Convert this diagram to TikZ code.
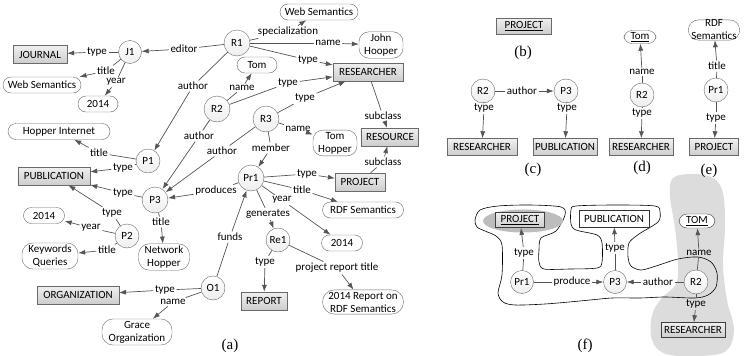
\documentclass[tikz,border=0pt]{standalone}
\usepackage{fontspec}
\setmainfont{Carlito}
\newfontfamily\capfont{Liberation Serif}
\usetikzlibrary{arrows.meta, shapes.geometric}

\definecolor{linegray}{HTML}{555555}
\definecolor{boxline}{HTML}{6A6A6A}
\definecolor{boxtop}{HTML}{F0F0F0}
\definecolor{boxbot}{HTML}{CDCDCD}
\definecolor{circbot}{HTML}{EEEEEE}
\definecolor{blobgray}{HTML}{DCDCDC}
\definecolor{hlgray}{HTML}{BDBDBD}

\begin{document}
\begin{tikzpicture}[x = 1pt, y = -1pt, font = \fontsize{11}{13}\selectfont,
    box/.style = {shape = rectangle, draw = boxline, top color = boxtop, bottom color = boxbot, minimum height = 18pt, inner xsep = 6pt, inner ysep = 2pt},
    fbox/.style = {shape = rectangle, draw = black!80, fill = white, minimum height = 17pt, inner xsep = 5pt, inner ysep = 1pt},
    pill/.style = {shape = rectangle, rounded corners = 8pt, draw = boxline, fill = white, minimum height = 16pt, inner xsep = 3pt, inner ysep = 2pt, align = center},
    res/.style = {shape = circle, draw = boxline, top color = white, bottom color = circbot, minimum size = 25pt, inner sep = 1pt},
    lbl/.style = {inner sep = 1.5pt},
    subcap/.style = {font = \capfont\fontsize{15}{17}\selectfont},
    ln/.style = {draw = linegray, line width = 0.7pt},
    arr/.style = {ln, -{Latex[length = 7pt, width = 5pt]}}]
    \useasboundingbox (0, 0) rectangle (745, 356);

    % (f) background
    \fill [blobgray] plot [smooth cycle, tension = 0.6] coordinates {(673,178) (693,174) (713,178) (723,193) (725,227) (723,265) (727,300) (734,330) (726,351) (700,356) (666,354) (652,340) (652,315) (662,298) (676,284) (678,262) (675,228) (670,196)};
    \draw [black, line width = 0.6pt] plot [smooth cycle, tension = 0.5] coordinates {(475,220) (480,210) (498,206) (530,205) (561,207) (565,215) (556,231) (541,238) (539,250) (539,262) (544,269) (570,269) (597,268) (602,262) (602,243) (597,235) (576,230) (571,224) (571,210) (576,206) (615,205) (655,206) (660,212) (658,222) (639,234) (629,243) (628,257) (631,266) (641,270) (656,266) (678,259) (698,257) (711,262) (717,273) (716,287) (708,295) (695,298) (665,297) (640,298) (612,298) (580,301) (545,304) (515,305) (503,302) (498,293) (502,275) (502,245) (496,236) (485,231) (477,227)};
    \node [shape = ellipse, fill = hlgray, minimum width = 80pt, minimum height = 23pt] (projhl) at (523, 221) {};

    % (a)
    \node [box] (journal) at (40, 54.5) {JOURNAL};
    \node [res, minimum size = 23pt] (J1) at (130, 52) {J1};
    \node [res, minimum size = 26pt] (R1) at (237, 43) {R1};
    \node [pill, minimum width = 78pt] (websemA) at (319, 12) {Web Semantics};
    \node [pill, minimum width = 44pt, rounded corners = 10pt] (john) at (381, 45) {John\\Hooper};
    \node [box] (researcher) at (368, 72) {RESEARCHER};
    \node [pill, minimum width = 40pt] (tom) at (257, 65) {Tom};
    \node [res, minimum size = 26pt] (R2) at (217, 109) {R2};
    \node [res, minimum size = 26pt] (R3) at (266, 119) {R3};
    \node [pill, minimum width = 44pt, rounded corners = 10pt] (tomhopper) at (335, 143) {Tom\\Hopper};
    \node [box, inner xsep = 4.5pt] (resource) at (390, 137) {RESOURCE};
    \node [pill, minimum width = 78pt] (websemB) at (42, 85) {Web Semantics};
    \node [pill, minimum width = 40pt] (yearJ) at (98, 104) {2014};
    \node [pill, minimum width = 102pt] (hopper) at (59, 131.5) {Hopper Internet};
    \node [res, minimum size = 24pt] (P1) at (148, 161) {P1};
    \node [box] (publication) at (54, 176) {PUBLICATION};
    \node [res, minimum size = 26pt] (P3) at (155, 200) {P3};
    \node [res, minimum size = 26pt] (Pr1) at (251, 178) {Pr1};
    \node [box, inner xsep = 5.5pt] (project) at (360, 182) {PROJECT};
    \node [pill, minimum width = 81pt] (rdf) at (363, 210) {RDF Semantics};
    \node [pill, minimum width = 41pt] (yearPr) at (342, 243) {2014};
    \node [pill, minimum width = 41pt] (yearP) at (44, 215.5) {2014};
    \node [res, minimum size = 24pt] (P2) at (127, 236) {P2};
    \node [pill, minimum width = 56pt, rounded corners = 11pt] (keywords) at (50, 256) {Keywords\\Queries};
    \node [pill, minimum width = 51pt, rounded corners = 11pt] (network) at (164, 257) {Network\\Hopper};
    \node [res, minimum size = 24pt] (Re1) at (278, 240) {Re1};
    \node [box, inner xsep = 5pt] (report) at (264, 301) {REPORT};
    \node [res, minimum size = 24pt] (O1) at (213, 288) {O1};
    \node [box] (organization) at (78, 295) {ORGANIZATION};
    \node [pill, minimum width = 70pt, rounded corners = 11pt] (grace) at (137, 332) {Grace\\Organization};
    \node [pill, minimum width = 81pt, rounded corners = 12pt] (report2014) at (363, 302) {2014 Report on\\RDF Semantics};

    \node [lbl] (lJtype) at (97, 52) {type};
    \node [lbl] (lJeditor) at (184, 49) {editor};
    \node [lbl] (lJtitle) at (106, 71) {title};
    \node [lbl] (lJyear) at (116, 82) {year};
    \node [lbl] (lRspec) at (288, 32) {specialization};
    \node [lbl] (lRname) at (328, 43) {name};
    \node [lbl] (lRtype) at (308, 60) {type};
    \node [lbl] (lRauthor) at (193, 86) {author};
    \node [lbl] (lR2name) at (242, 88) {name};
    \node [lbl] (lR2type) at (288, 83) {type};
    \node [lbl] (lR2author) at (199, 136) {author};
    \node [lbl] (lR3type) at (305, 98) {type};
    \node [lbl] (lR3name) at (298, 129) {name};
    \node [lbl] (lR3author) at (222, 151) {author};
    \node [lbl] (lR3member) at (271, 148) {member};
    \node [lbl] (lsub1) at (383, 116) {subclass};
    \node [lbl] (lsub2) at (383, 162) {subclass};
    \node [lbl] (lP1title) at (99, 153) {title};
    \node [lbl] (lP1type) at (123, 168) {type};
    \node [lbl] (lP3type) at (123, 193) {type};
    \node [lbl] (lP2type) at (112, 213) {type};
    \node [lbl] (lP2year) at (91, 228) {year};
    \node [lbl] (lP2title) at (107, 250) {title};
    \node [lbl] (lP3title) at (161, 222) {title};
    \node [lbl] (lprod) at (216, 191) {produces};
    \node [lbl] (lPrtype) at (307, 174) {type};
    \node [lbl] (lPrtitle) at (302, 190) {title};
    \node [lbl] (lPryear) at (282, 200) {year};
    \node [lbl] (lgen) at (268, 214) {generates};
    \node [lbl] (lfunds) at (230, 237) {funds};
    \node [lbl] (lRetype) at (265, 262) {type};
    \node [lbl] (lRetitle) at (337, 268) {project report title};
    \node [lbl] (lOtype) at (165, 290) {type};
    \node [lbl] (lOname) at (173, 302) {name};

    \draw [ln] (J1) -- (lJtype); \draw [arr] (lJtype) -- (journal);
    \draw [ln] (R1) -- (lJeditor); \draw [arr] (lJeditor) -- (J1);
    \draw [ln] (J1) -- (lJtitle); \draw [arr] (lJtitle) -- (websemB);
    \draw [ln] (J1) -- (lJyear); \draw [arr] (lJyear) -- (yearJ);
    \draw [ln] (R1) -- (lRspec); \draw [arr] (lRspec) -- (websemA);
    \draw [ln] (R1) -- (lRname); \draw [arr] (lRname) -- (john);
    \draw [ln] (R1) -- (lRtype); \draw [arr] (lRtype) -- (researcher);
    \draw [ln] (R1) -- (lRauthor); \draw [arr] (lRauthor) -- (P1);
    \draw [ln] (R2) -- (lR2name); \draw [arr] (lR2name) -- (tom);
    \draw [ln] (R2) -- (lR2type); \draw [arr] (lR2type) -- (researcher);
    \draw [ln] (R2) -- (lR2author); \draw [arr] (lR2author) -- (P3);
    \draw [ln] (R3) -- (lR3type); \draw [arr] (lR3type) -- (researcher);
    \draw [ln] (R3) -- (lR3name); \draw [arr] (lR3name) -- (tomhopper);
    \draw [ln] (R3) -- (lR3author); \draw [arr] (lR3author) -- (P3);
    \draw [ln] (R3) -- (lR3member); \draw [arr] (lR3member) -- (Pr1);
    \draw [ln] (researcher) -- (lsub1); \draw [arr] (lsub1) -- (resource);
    \draw [ln] (project) -- (lsub2); \draw [arr] (lsub2) -- (resource);
    \draw [ln] (P1) -- (lP1title); \draw [arr] (lP1title) -- (hopper);
    \draw [ln] (P1) -- (lP1type); \draw [arr] (lP1type) -- (publication);
    \draw [ln] (P3) -- (lP3type); \draw [arr] (lP3type) -- (publication);
    \draw [ln] (P2) -- (lP2type); \draw [arr] (lP2type) -- (publication);
    \draw [ln] (P2) -- (lP2year); \draw [arr] (lP2year) -- (yearP);
    \draw [ln] (P2) -- (lP2title); \draw [arr] (lP2title) -- (keywords);
    \draw [ln] (P3) -- (lP3title); \draw [arr] (lP3title) -- (network);
    \draw [ln] (Pr1) -- (lprod); \draw [arr] (lprod) -- (P3);
    \draw [ln] (Pr1) -- (lPrtype); \draw [arr] (lPrtype) -- (project);
    \draw [ln] (Pr1) -- (lPrtitle); \draw [arr] (lPrtitle) -- (rdf);
    \draw [ln] (Pr1) -- (lPryear); \draw [arr] (lPryear) -- (yearPr);
    \draw [ln] (Pr1) -- (lgen); \draw [arr] (lgen) -- (Re1);
    \draw [ln] (O1) -- (lfunds); \draw [arr] (lfunds) -- (Pr1);
    \draw [ln] (Re1) -- (lRetype); \draw [arr] (lRetype) -- (report);
    \draw [ln] (Re1) -- (lRetitle); \draw [arr] (lRetitle) -- (report2014);
    \draw [ln] (O1) -- (lOtype); \draw [arr] (lOtype) -- (organization);
    \draw [ln] (O1) -- (lOname); \draw [arr] (lOname) -- (grace);

    % (b)
    \node [box, minimum height = 16pt, inner xsep = 8pt] (projB) at (524, 26) {\underline{PROJECT}};

    % (c)
    \node [res, minimum size = 24pt] (R2c) at (483, 91) {R2};
    \node [res, minimum size = 24pt] (P3c) at (566, 91) {P3};
    \node [box, minimum height = 17pt, inner xsep = 6pt] (researcherC) at (482, 147) {RESEARCHER};
    \node [box, minimum height = 17pt, inner xsep = 2pt] (publicationC) at (565, 147) {PUBLICATION};
    \node [lbl] (lcauthor) at (522, 91) {author};
    \node [lbl] (lctype1) at (484, 108) {type};
    \node [lbl] (lctype2) at (567, 108) {type};
    \draw [ln] (R2c) -- (lcauthor); \draw [arr] (lcauthor) -- (P3c);
    \draw [ln] (R2c) -- (lctype1); \draw [arr] (lctype1) -- (researcherC);
    \draw [ln] (P3c) -- (lctype2); \draw [arr] (lctype2) -- (publicationC);

    % (d)
    \node [pill, minimum width = 32pt, minimum height = 13pt, inner ysep = 0pt] (tomD) at (640, 37) {\underline{Tom}};
    \node [res, minimum size = 24pt] (R2d) at (642, 95) {R2};
    \node [box, minimum height = 17pt, inner xsep = 3pt] (researcherD) at (641, 147) {RESEARCHER};
    \node [lbl] (ldname) at (642, 72) {name};
    \node [lbl] (ldtype) at (642, 113) {type};
    \draw [ln] (R2d) -- (ldname); \draw [arr] (ldname) -- (tomD);
    \draw [ln] (R2d) -- (ldtype); \draw [arr] (ldtype) -- (researcherD);

    % (e)
    \node [pill, minimum width = 48pt, rounded corners = 10pt, inner ysep = 0pt] (rdfE) at (714, 30) {RDF\\Semantics};
    \node [res, minimum size = 24pt] (Pr1e) at (716, 90) {Pr1};
    \node [box, minimum height = 17pt, inner xsep = 5pt] (projectE) at (714, 147) {PROJECT};
    \node [lbl] (letitle) at (717, 66) {title};
    \node [lbl] (letype) at (716, 118) {type};
    \draw [ln] (Pr1e) -- (letitle); \draw [arr] (letitle) -- (rdfE);
    \draw [ln] (Pr1e) -- (letype); \draw [arr] (letype) -- (projectE);

    % (f)
    \node [box, draw = black!75, line width = 0.8pt, minimum height = 15pt, inner xsep = 5pt] (projectF) at (520, 220) {\underline{PROJECT}};
    \node [fbox] (publicationF) at (614, 218.5) {PUBLICATION};
    \node [pill, draw = black!75, minimum width = 36pt, minimum height = 14pt, inner ysep = 0pt] (tomF) at (697, 221) {\underline{TOM}};
    \node [res, minimum size = 23pt] (Pr1f) at (522, 282) {Pr1};
    \node [res, minimum size = 23pt] (P3f) at (615, 282) {P3};
    \node [res, minimum size = 24pt] (R2f) at (696, 282) {R2};
    \node [box, draw = black!75, minimum height = 15pt, inner xsep = 3pt] (researcherF) at (693, 330) {RESEARCHER};
    \node [lbl] (lftype1) at (524, 253) {type};
    \node [lbl] (lftype2) at (615, 248) {type};
    \node [lbl] (lfname) at (699, 253) {name};
    \node [lbl] (lfprod) at (572, 282) {produce};
    \node [lbl] (lfauthor) at (658, 282) {author};
    \node [lbl] (lftype3) at (696, 304) {type};
    \draw [ln] (Pr1f) -- (lftype1); \draw [arr] (lftype1) -- (projectF);
    \draw [ln] (P3f) -- (lftype2); \draw [arr] (lftype2) -- (publicationF);
    \draw [ln] (R2f) -- (lfname); \draw [arr] (lfname) -- (tomF);
    \draw [ln] (R2f) -- (lftype3); \draw [arr] (lftype3) -- (researcherF);
    \draw [ln] (Pr1f) -- (lfprod); \draw [arr] (lfprod) -- (P3f);
    \draw [ln] (R2f) -- (lfauthor); \draw [arr] (lfauthor) -- (P3f);

    \node [subcap] (capA) at (230, 346) {(a)};
    \node [subcap] (capB) at (523, 53) {(b)};
    \node [subcap] (capC) at (533, 170) {(c)};
    \node [subcap] (capD) at (642, 168) {(d)};
    \node [subcap] (capE) at (709, 171) {(e)};
    \node [subcap] (capF) at (585, 346) {(f)};
\end{tikzpicture}
\end{document}
